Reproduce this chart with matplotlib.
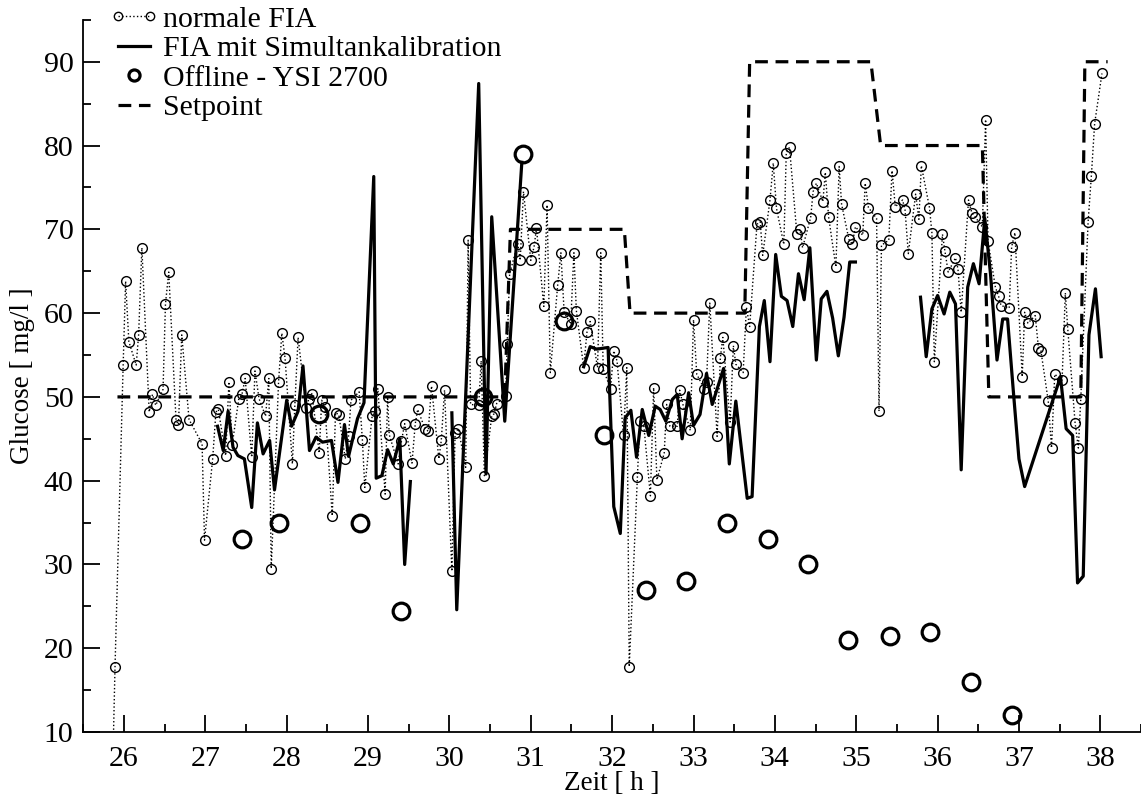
import matplotlib
matplotlib.use("Agg")
import matplotlib.pyplot as plt
from matplotlib.lines import Line2D
from matplotlib.legend_handler import HandlerLine2D
from matplotlib.ticker import MultipleLocator

plt.rcParams['font.family'] = ['Liberation Serif', 'DejaVu Serif']
plt.rcParams['font.size'] = 21.5

# normale FIA (online measurement)
fia_t = [25.86, 25.89, 25.99, 26.02, 26.06, 26.15, 26.18, 26.22, 26.31, 26.35,
         26.39, 26.48, 26.51, 26.55, 26.64, 26.67, 26.71, 26.80, 26.96, 26.99,
         27.09, 27.13, 27.16, 27.25, 27.29, 27.33, 27.41, 27.45, 27.49, 27.57,
         27.61, 27.66, 27.74, 27.78, 27.81, 27.90, 27.94, 27.98, 28.07, 28.10,
         28.14, 28.24, 28.27, 28.31, 28.40, 28.43, 28.47, 28.56, 28.60, 28.64,
         28.72, 28.76, 28.79, 28.89, 28.93, 28.96, 29.05, 29.09, 29.12, 29.21,
         29.24, 29.26, 29.37, 29.41, 29.45, 29.54, 29.58, 29.61, 29.70, 29.74,
         29.78, 29.87, 29.90, 29.94, 30.03, 30.07, 30.11, 30.20, 30.23, 30.26,
         30.36, 30.39, 30.43, 30.52, 30.55, 30.58, 30.69, 30.71, 30.74, 30.84,
         30.87, 30.91, 31.00, 31.04, 31.07, 31.16, 31.20, 31.24, 31.33, 31.37,
         31.41, 31.49, 31.53, 31.56, 31.65, 31.69, 31.73, 31.82, 31.86, 31.89,
         31.98, 32.02, 32.06, 32.14, 32.18, 32.21, 32.31, 32.34, 32.39, 32.47,
         32.51, 32.55, 32.64, 32.67, 32.71, 32.80, 32.83, 32.87, 32.96, 33.00,
         33.04, 33.13, 33.16, 33.20, 33.29, 33.33, 33.36, 33.45, 33.49, 33.52,
         33.61, 33.65, 33.69, 33.78, 33.82, 33.85, 33.94, 33.98, 34.02, 34.11,
         34.14, 34.18, 34.27, 34.31, 34.34, 34.44, 34.47, 34.51, 34.59, 34.62,
         34.66, 34.75, 34.79, 34.82, 34.91, 34.95, 34.99, 35.08, 35.11, 35.15,
         35.25, 35.28, 35.31, 35.40, 35.44, 35.48, 35.57, 35.60, 35.64, 35.73,
         35.77, 35.80, 35.90, 35.93, 35.96, 36.06, 36.09, 36.13, 36.22, 36.25,
         36.29, 36.38, 36.42, 36.46, 36.55, 36.59, 36.62, 36.71, 36.75, 36.78,
         36.88, 36.91, 36.95, 37.04, 37.07, 37.11, 37.20, 37.24, 37.27, 37.36,
         37.40, 37.44, 37.53, 37.57, 37.60, 37.69, 37.73, 37.76, 37.85, 37.89,
         37.93, 38.02]
fia_glc = [5.0, 17.8, 53.8, 63.8, 56.6, 53.8, 57.4, 67.8, 48.2, 50.3,
           49.0, 50.9, 61.1, 64.9, 47.2, 46.7, 57.4, 47.3, 44.4, 32.9,
           42.6, 48.2, 48.5, 43.0, 51.8, 44.3, 49.7, 50.3, 52.2, 42.8,
           53.1, 49.8, 47.7, 52.2, 29.5, 51.8, 57.6, 54.6, 42.0, 49.0,
           57.1, 48.7, 49.7, 50.4, 43.3, 49.6, 48.8, 35.8, 48.1, 47.9,
           42.6, 45.3, 49.6, 50.6, 44.9, 39.2, 47.7, 48.3, 51.0, 38.4,
           50.0, 45.5, 42.0, 44.7, 46.8, 42.1, 46.8, 48.5, 46.2, 45.9,
           51.3, 42.6, 44.8, 50.8, 29.2, 45.7, 46.2, 41.6, 68.7, 49.1,
           49.0, 54.3, 40.6, 47.7, 48.0, 49.2, 50.1, 56.3, 64.7, 68.3,
           66.3, 74.5, 66.3, 67.9, 70.1, 60.8, 72.9, 52.9, 63.3, 67.2,
           60.1, 58.7, 67.2, 60.3, 53.5, 57.7, 59.0, 53.5, 67.2, 53.3,
           51.0, 55.5, 54.3, 45.4, 53.5, 17.8, 40.5, 47.1, 46.5, 38.2,
           51.1, 40.1, 43.3, 49.1, 46.5, 46.5, 50.8, 49.1, 46.0, 59.2,
           52.7, 51.0, 51.8, 61.2, 45.3, 54.7, 57.1, 47.0, 56.1, 53.9,
           52.9, 60.7, 58.4, 70.6, 70.9, 66.9, 73.5, 77.9, 72.5, 68.2,
           79.1, 79.8, 69.5, 70.0, 67.8, 71.4, 74.5, 75.5, 73.3, 76.8,
           71.5, 65.5, 77.5, 73.0, 68.8, 68.2, 70.3, 69.3, 75.5, 72.6,
           71.3, 48.3, 68.1, 68.7, 77.0, 72.7, 73.5, 72.3, 67.1, 74.2,
           71.2, 77.6, 72.6, 69.6, 54.2, 69.4, 67.4, 64.9, 66.6, 65.3,
           60.1, 73.5, 72.0, 71.5, 70.3, 83.1, 68.6, 63.1, 62.0, 60.9,
           60.6, 67.9, 69.6, 52.4, 60.1, 58.8, 59.7, 55.8, 55.5, 49.5,
           43.9, 52.7, 52.0, 62.4, 58.1, 46.9, 43.9, 49.8, 70.9, 76.4,
           82.6, 88.6]

# FIA mit Simultankalibration, None marks gaps in the record
kal_t = [27.15, 27.22, 27.28, 27.34, 27.40, 27.48, 27.57, 27.64, 27.71, 27.79,
         27.85, 28.00, 28.06, 28.14, 28.20, 28.28, 28.36, 28.44, 28.55, 28.63,
         28.71, 28.76, 28.87, 28.95, 29.07, 29.10, 29.17, 29.24, 29.31, 29.39,
         29.45, 29.52, None,
         30.03, 30.09, 30.36, 30.45, 30.52, 30.68, 30.89, None,
         31.65, 31.73, 31.81, 31.95, 32.02, 32.10, 32.16, 32.23, 32.30, 32.37,
         32.45, 32.53, 32.59, 32.66, 32.74, 32.80, 32.86, 32.94, 33.00, 33.08,
         33.16, 33.23, 33.37, 33.44, 33.52, 33.66, 33.72, 33.81, 33.87, 33.94,
         34.01, 34.08, 34.15, 34.22, 34.29, 34.36, 34.43, 34.51, 34.57, 34.64,
         34.71, 34.78, 34.85, 34.92, 34.99, None,
         35.79, 35.86, 35.93, 36.00, 36.08, 36.15, 36.22, 36.29, 36.37, 36.44,
         36.51, 36.58, 36.65, 36.73, 36.80, 36.86, 36.93, 37.00, 37.07, 37.51,
         37.58, 37.66, 37.72, 37.79, 37.86, 37.94, 38.01]
kal_glc = [46.5, 43.6, 48.3, 44.0, 43.0, 42.6, 36.8, 46.9, 43.2, 44.8,
           38.9, 49.6, 46.5, 48.3, 53.7, 43.6, 45.2, 44.6, 44.8, 39.8,
           46.7, 42.9, 47.4, 49.3, 76.3, 40.3, 40.6, 43.7, 42.0, 45.0,
           30.0, 39.9, None,
           48.1, 24.6, 87.4, 40.8, 71.5, 47.1, 78.0, None,
           53.6, 56.0, 55.7, 55.9, 36.9, 33.7, 47.5, 48.4, 42.8, 48.5,
           45.4, 48.9, 48.5, 47.1, 49.7, 50.3, 45.0, 50.5, 46.6, 47.9,
           52.8, 49.1, 53.4, 42.0, 49.5, 37.9, 38.1, 58.4, 61.5, 54.2,
           67.0, 62.0, 61.5, 58.4, 64.7, 61.6, 67.8, 54.4, 61.7, 62.6,
           59.4, 54.9, 59.5, 66.1, 66.1, None,
           61.9, 54.8, 60.5, 62.1, 59.9, 62.5, 61.1, 41.3, 63.1, 65.9,
           63.5, 71.3, 64.7, 54.4, 59.3, 59.3, 50.8, 42.6, 39.3, 52.4,
           46.2, 45.4, 27.8, 28.6, 57.4, 62.9, 54.8]

# Offline - YSI 2700 reference samples
ysi_t = [27.45, 27.91, 28.40, 28.90, 29.41, 30.41, 30.90, 31.41, 31.90, 32.41,
         32.91, 33.41, 33.91, 34.41, 34.90, 35.41, 35.91, 36.41, 36.91]
ysi_glc = [33, 35, 48, 35, 24.5, 50, 79, 59, 45.5, 27,
           28, 35, 33, 30, 21, 21.5, 22, 16, 12]

# Setpoint profile
set_t = [25.92, 30.68, 30.75, 32.15, 32.22, 33.63, 33.69, 35.18, 35.30, 36.55,
         36.63, 37.76, 37.81, 38.09]
set_glc = [50, 50, 70, 70, 60, 60, 90, 90, 80, 80, 50, 50, 90, 90]

kal_t = [float('nan') if v is None else v for v in kal_t]
kal_glc = [float('nan') if v is None else v for v in kal_glc]

fig = plt.figure(figsize=(11.41, 7.94), dpi=100)
ax = fig.add_axes([0.073, 0.078, 0.927, 0.897])

ax.plot(fia_t, fia_glc, ls=':', lw=1, color='black', marker='o', ms=7,
        mfc='none', mew=1)
ax.plot(kal_t, kal_glc, '-', lw=2.3, color='black')
ax.plot(ysi_t, ysi_glc, 'o', ms=12, mfc='none', mec='black', mew=2.3)
ax.plot(set_t, set_glc, ls=(0, (4, 2.4)), lw=2.3, color='black')

ax.set_xlim(25.5, 38.5)
ax.set_ylim(10, 95)
ax.set_xticks(range(26, 39))
ax.set_yticks(range(10, 91, 10))
ax.xaxis.set_minor_locator(MultipleLocator(0.5))
ax.yaxis.set_minor_locator(MultipleLocator(5))
ax.tick_params(which='major', direction='in', length=12, width=1.3)
ax.tick_params(which='minor', direction='in', length=6, width=1.3)
ax.tick_params(axis='x', which='major', pad=10)
ax.tick_params(axis='y', which='major', pad=7)
for side in ('top', 'right'):
    ax.spines[side].set_visible(False)
for side in ('left', 'bottom'):
    ax.spines[side].set_linewidth(1.3)

ax.set_xlabel('Zeit [ h ]', fontsize=19.5, labelpad=-1)
ax.set_ylabel('Glucose [ mg/l ]', fontsize=19.5, labelpad=6)

h_fia = Line2D([], [], ls=':', lw=1, color='black', marker='o', ms=6,
               mfc='none', mew=1)
h_kal = Line2D([], [], ls='-', lw=2.3, color='black')
h_ysi = Line2D([], [], ls='none', marker='o', ms=8, mfc='none',
               mec='black', mew=2.3)
h_set = Line2D([], [], ls=(0, (4, 2.4)), lw=2.3, color='black')
fig.legend([h_fia, h_kal, h_ysi, h_set],
           ['normale FIA', 'FIA mit Simultankalibration',
            'Offline - YSI 2700', 'Setpoint'],
           loc='upper left', bbox_to_anchor=(0.0771, 1.019), frameon=False,
           numpoints=2, handler_map={h_ysi: HandlerLine2D(numpoints=1)},
           handlelength=1.67, handletextpad=0.14, labelspacing=0.09,
           borderpad=0.2)

fig.savefig('out.png', dpi=100)
